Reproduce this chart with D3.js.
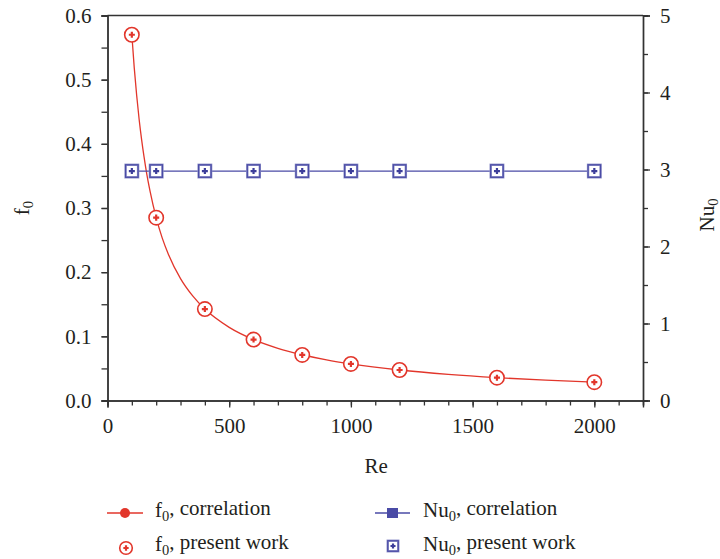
<!DOCTYPE html>
<html>
<head>
<meta charset="utf-8">
<script src="https://cdn.jsdelivr.net/npm/d3@7"></script>
<style>
  html, body { margin: 0; padding: 0; background: #fff; }
  svg { display: block; }
</style>
</head>
<body>
<svg id="chart" width="720" height="559"></svg>
<script>
// Reynolds numbers of the simulated cases
const reCases = [100, 200, 400, 600, 800, 1000, 1200, 1600, 2000];
// friction factor from the present simulations
const fPresent = [0.570, 0.285, 0.1425, 0.095, 0.071, 0.057, 0.0475, 0.0356, 0.0285];
// Nusselt number from the present simulations
const nuPresent = [2.98, 2.98, 2.98, 2.98, 2.98, 2.98, 2.98, 2.98, 2.98];

// correlation curve for the friction factor
const reCorr = [100, 110, 120, 130, 140, 150, 160, 175, 200, 225, 250, 300, 350, 400, 500, 600, 700, 800, 900, 1000, 1200, 1400, 1600, 1800, 2000];
const fCorr = [0.570, 0.518, 0.475, 0.438, 0.407, 0.380, 0.356, 0.326, 0.285, 0.253, 0.228, 0.190, 0.163, 0.1425, 0.114, 0.095, 0.0814, 0.0713, 0.0633, 0.057, 0.0475, 0.0407, 0.0356, 0.0317, 0.0285];
// correlation value of the Nusselt number
const nuCorrRe = [100, 2000];
const nuCorr = [2.98, 2.98];

// axis ticks
const xTicks = [0, 500, 1000, 1500, 2000];
const fTicks = [0, 0.1, 0.2, 0.3, 0.4, 0.5, 0.6];
const nuTicks = [0, 1, 2, 3, 4, 5];

const RED = "#e2362b";
const BLUE = "#4a4ba6";
const AXIS = "#333333";
const FONT = "Liberation Serif";
const FS = "21px";
const INK = "#231f20";

const svg = d3.select("#chart");
const m = { left: 107.5, right: 643, top: 15.5, bottom: 400.5 };

const x = d3.scaleLinear().domain([0, 2200]).range([m.left, m.right]);
const yF = d3.scaleLinear().domain([0, 0.6]).range([m.bottom, m.top]);
const yNu = d3.scaleLinear().domain([0, 5]).range([m.bottom, m.top]);

// frame
svg.append("line").attr("x1", m.left).attr("x2", m.right).attr("y1", m.top).attr("y2", m.top)
  .attr("stroke", AXIS).attr("stroke-width", 1.4);

// bottom axis: minor ticks every 100, labels every 500
const gx = svg.append("g").attr("transform", `translate(0,${m.bottom})`);
gx.call(d3.axisBottom(x).tickValues(d3.range(0, 2201, 100)).tickSize(5).tickFormat(""));
gx.append("g").call(d3.axisBottom(x).tickValues(xTicks).tickSize(7).tickPadding(11).tickFormat(d3.format("d")));

// left axis: ticks every 0.05
const gl = svg.append("g").attr("transform", `translate(${m.left},0)`);
gl.call(d3.axisLeft(yF).tickValues(d3.range(0, 0.601, 0.05)).tickSize(6).tickFormat(""));
gl.append("g").call(d3.axisLeft(yF).tickValues(fTicks).tickSize(6).tickPadding(10).tickFormat(d3.format(".1f")));

// right axis: ticks every 0.5
const gr = svg.append("g").attr("transform", `translate(${m.right},0)`);
gr.call(d3.axisRight(yNu).tickValues(d3.range(0, 5.01, 0.5)).tickSize(5).tickFormat(""));
gr.append("g").call(d3.axisRight(yNu).tickValues(nuTicks).tickSize(7).tickPadding(10).tickFormat(d3.format("d")));

svg.selectAll("g").attr("font-family", FONT).attr("font-size", 21);
svg.selectAll(".domain").attr("stroke", AXIS).attr("stroke-width", 1.4);
svg.selectAll(".tick line").attr("stroke", AXIS).attr("stroke-width", 1.3);
svg.selectAll(".tick text").attr("font-family", FONT).attr("font-size", 21)
  .style("font-size", FS).style("font-family", FONT).style("fill", INK);

function label(parent) {
  return parent.append("text").attr("font-family", FONT).style("font-family", FONT).style("font-size", FS).style("fill", INK);
}
function subLabel(sel, main, sub, rest) {
  sel.append("tspan").text(main);
  sel.append("tspan").style("font-size", "14.5px").attr("dy", "0.3em").text(sub);
  if (rest) sel.append("tspan").attr("dy", "-0.3em").text(rest);
  return sel;
}

// axis titles
label(svg).attr("x", (m.left + m.right) / 2 + 1).attr("y", 473).attr("text-anchor", "middle").text("Re");
subLabel(label(svg).attr("text-anchor", "middle").attr("transform", "translate(29,208) rotate(-90)"), "f", "0");
subLabel(label(svg).attr("text-anchor", "middle").attr("transform", "translate(714,215) rotate(-90)"), "Nu", "0");

// correlation curves
const lineF = d3.line().x((d, i) => x(reCorr[i])).y(d => yF(d)).curve(d3.curveMonotoneX);
svg.append("path").attr("d", lineF(fCorr)).attr("fill", "none").attr("stroke", RED).attr("stroke-width", 1.3);

const lineNu = d3.line().x((d, i) => x(nuCorrRe[i])).y(d => yNu(d));
svg.append("path").attr("d", lineNu(nuCorr)).attr("fill", "none").attr("stroke", BLUE).attr("stroke-width", 1.3);

// marker drawers
function circleMarker(g, cx, cy, r) {
  g.append("circle").attr("cx", cx).attr("cy", cy).attr("r", r)
    .attr("fill", "#fff").attr("stroke", RED).attr("stroke-width", 1.6);
  const p = r * 0.42;
  g.append("path").attr("d", `M${cx - p},${cy}H${cx + p}M${cx},${cy - p}V${cy + p}`)
    .attr("stroke", RED).attr("stroke-width", 2.2);
}
function squareMarker(g, cx, cy, s) {
  g.append("rect").attr("x", cx - s / 2).attr("y", cy - s / 2).attr("width", s).attr("height", s)
    .attr("fill", "#fff").attr("stroke", "#8e90c8").attr("stroke-width", 2.4);
  g.append("rect").attr("x", cx - s / 2).attr("y", cy - s / 2).attr("width", s).attr("height", s)
    .attr("fill", "none").attr("stroke", BLUE).attr("stroke-width", 1.2);
  const p = s * 0.24;
  g.append("path").attr("d", `M${cx - p},${cy}H${cx + p}M${cx},${cy - p}V${cy + p}`)
    .attr("stroke", "#3d3e9a").attr("stroke-width", 2.2);
}

const gm = svg.append("g");
nuPresent.forEach((v, i) => squareMarker(gm, x(reCases[i]), yNu(v), 12.5));
fPresent.forEach((v, i) => circleMarker(gm, x(reCases[i]), yF(v), 7.2));

// legend
const lg = svg.append("g");
lg.append("line").attr("x1", 107).attr("x2", 143).attr("y1", 513).attr("y2", 513).attr("stroke", RED).attr("stroke-width", 1.3);
lg.append("circle").attr("cx", 125).attr("cy", 513).attr("r", 5).attr("fill", RED);
subLabel(label(lg).attr("x", 155).attr("y", 517), "f", "0", ", correlation");
circleMarker(lg, 126, 548, 6.3);
subLabel(label(lg).attr("x", 155).attr("y", 551), "f", "0", ", present work");

lg.append("line").attr("x1", 375).attr("x2", 410).attr("y1", 513).attr("y2", 513).attr("stroke", BLUE).attr("stroke-width", 1.3);
lg.append("rect").attr("x", 387).attr("y", 508).attr("width", 11).attr("height", 10).attr("fill", BLUE);
subLabel(label(lg).attr("x", 423).attr("y", 517), "Nu", "0", ", correlation");
squareMarker(lg, 393, 546, 10.5);
subLabel(label(lg).attr("x", 423).attr("y", 551), "Nu", "0", ", present work");
</script>
</body>
</html>
